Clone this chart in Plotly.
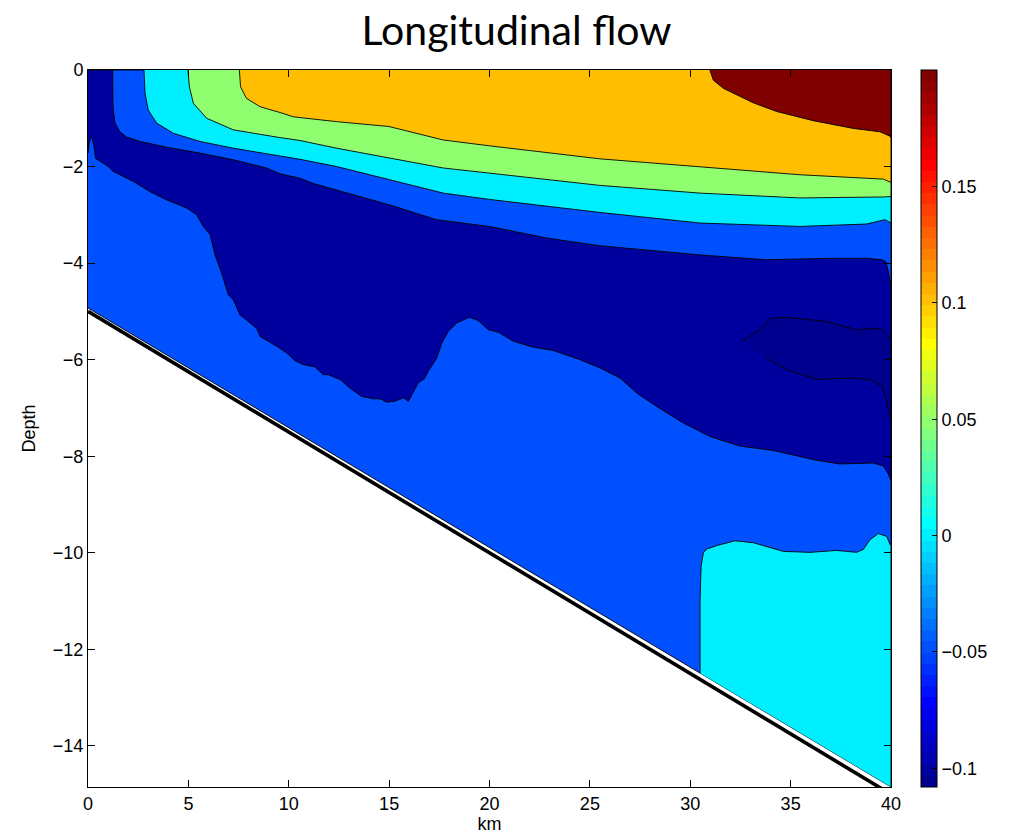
import numpy as np
import plotly.graph_objects as go

# ---------------------------------------------------------------
# Section geometry (km along channel, depth in m)
# ---------------------------------------------------------------
BED_KM = [0.0, 40.0]
BED_DEPTH = [-5.0, -15.0]            # bathymetry line
GRID_BOTTOM_KM = [0.0, 40.0]
GRID_BOTTOM_DEPTH = [-4.93, -14.85]  # deepest wet cell of the model grid

# ---------------------------------------------------------------
# Isolines of the longitudinal velocity (m/s)
# ---------------------------------------------------------------
# -0.05 m/s, lower branch (bottom of the strong ebb core)
ISO_M005_LOW_KM = [0.0, 0.07, 0.18, 0.30, 0.38, 0.76, 1.01, 1.26, 2.26, 3.09, 3.92,
                   4.92, 5.41, 5.74, 6.08, 6.33, 6.66, 6.99, 7.24, 7.57, 8.40, 8.57,
                   9.40, 9.90, 10.31, 10.72, 11.31, 11.72, 11.97, 12.55, 13.05, 13.63,
                   14.21, 14.55, 14.88, 15.29, 15.71, 15.96, 16.20, 16.45, 16.74, 16.95,
                   17.37, 17.62, 17.95, 18.37, 19.00, 19.44, 19.94, 20.44, 21.19, 22.18,
                   23.18, 24.51, 25.50, 26.50, 27.33, 28.33, 29.65, 30.98, 32.48, 34.14,
                   36.13, 37.46, 39.12, 39.60, 39.85, 40.0]
ISO_M005_LOW_DEPTH = [-1.72, -1.48, -1.37, -1.59, -1.83, -1.93, -2.00, -2.10, -2.31, -2.52,
                      -2.69, -2.86, -3.00, -3.24, -3.41, -3.83, -4.21, -4.66, -4.76, -5.07,
                      -5.35, -5.52, -5.72, -5.86, -6.02, -6.10, -6.15, -6.31, -6.31, -6.41,
                      -6.59, -6.76, -6.81, -6.81, -6.88, -6.86, -6.79, -6.86, -6.66, -6.48,
                      -6.40, -6.24, -5.97, -5.66, -5.41, -5.24, -5.12, -5.19, -5.38, -5.43,
                      -5.62, -5.74, -5.81, -6.00, -6.17, -6.38, -6.69, -6.97, -7.31, -7.59,
                      -7.79, -7.88, -8.07, -8.16, -8.14, -8.20, -8.35, -8.50]

# -0.05 m/s, upper branch
ISO_M005_UP_KM = [1.23, 1.24, 1.26, 1.35, 1.59, 1.93, 2.59, 3.92, 5.58, 7.24, 8.90, 9.56,
                  10.56, 11.22, 14.99, 17.37, 19.99, 22.85, 25.50, 30.49, 33.80, 37.10,
                  38.80, 39.55, 39.75, 39.88, 40.0]
ISO_M005_UP_DEPTH = [0.0, -0.62, -0.83, -1.10, -1.28, -1.39, -1.48, -1.60, -1.72, -1.86,
                     -2.03, -2.15, -2.24, -2.35, -2.79, -3.10, -3.24, -3.48, -3.64, -3.83,
                     -3.93, -3.90, -3.90, -3.93, -3.97, -4.20, -4.50]

# 0 m/s, upper branch
ISO_000_UP_KM = [2.79, 2.84, 3.00, 3.42, 4.25, 5.58, 7.24, 8.90, 9.56, 10.56, 12.39, 17.70,
                 19.99, 25.50, 30.49, 35.47, 38.79, 39.70, 40.0]
ISO_000_UP_DEPTH = [0.0, -0.48, -0.83, -1.10, -1.31, -1.48, -1.62, -1.74, -1.78, -1.85,
                    -2.00, -2.55, -2.68, -2.95, -3.17, -3.24, -3.19, -3.10, -3.17]

# 0 m/s, near-bed branch (landward flow pocket)
ISO_000_LOW_KM = [30.49, 30.49, 30.54, 30.65, 30.82, 31.32, 32.23, 33.14, 34.64, 35.97,
                  37.29, 38.29, 38.62, 38.95, 39.37, 39.79, 39.95, 40.0]
ISO_000_LOW_DEPTH = [None, -10.97, -10.28, -10.00, -9.92, -9.85, -9.75, -9.79, -9.97, -9.99,
                     -9.95, -9.99, -9.93, -9.73, -9.60, -9.66, -9.83, -9.85]

# 0.05 m/s
ISO_005_KM = [4.98, 5.05, 5.25, 5.91, 7.24, 8.90, 9.56, 10.56, 12.39, 17.70, 19.99, 25.50,
              30.49, 35.47, 39.62, 40.0]
ISO_005_DEPTH = [0.0, -0.35, -0.69, -1.00, -1.24, -1.36, -1.40, -1.46, -1.62, -2.03, -2.14,
                 -2.39, -2.55, -2.65, -2.63, -2.62]

# 0.10 m/s
ISO_010_KM = [7.54, 7.60, 7.90, 8.57, 9.56, 10.23, 12.39, 14.99, 17.70, 19.99, 25.50, 30.49,
              35.47, 39.62, 40.0]
ISO_010_DEPTH = [0.0, -0.35, -0.59, -0.76, -0.88, -0.97, -1.07, -1.17, -1.45, -1.57, -1.84,
                 -2.00, -2.17, -2.26, -2.33]

# 0.15 m/s
ISO_015_KM = [30.98, 31.15, 31.65, 33.14, 34.31, 36.13, 38.12, 39.45, 39.95, 40.0]
ISO_015_DEPTH = [0.0, -0.21, -0.38, -0.68, -0.86, -1.05, -1.21, -1.28, -1.37, -1.40]

# -0.10 m/s closed lens
ISO_M010_TOP_KM = [32.56, 33.47, 34.00, 34.80, 36.80, 38.29, 39.29, 39.60, 39.85, 40.0]
ISO_M010_TOP_DEPTH = [-5.62, -5.38, -5.14, -5.12, -5.21, -5.38, -5.35, -5.38, -5.50, -5.60]
ISO_M010_BOT_KM = [32.56, 33.80, 34.80, 36.30, 38.12, 39.00, 39.55, 39.80, 40.0]
ISO_M010_BOT_DEPTH = [-5.62, -5.97, -6.21, -6.41, -6.38, -6.42, -6.55, -6.90, -7.25]

# Colour scale limits and ticks
CMIN, CMAX = -0.108, 0.200
CB_TICKS = [-0.1, -0.05, 0, 0.05, 0.1, 0.15]
CB_TICKTEXT = ["\u22120.1", "\u22120.05", "0", "0.05", "0.1", "0.15"]
X_TICKS = [0, 5, 10, 15, 20, 25, 30, 35, 40]
Y_TICKS = [0, -2, -4, -6, -8, -10, -12, -14]


# ---------------------------------------------------------------
# MATLAB-style jet(64) colormap
# ---------------------------------------------------------------
def jet(m=64):
    n = int(np.ceil(m / 4))
    u = np.concatenate([np.arange(1, n + 1) / n, np.ones(n - 1), np.arange(n, 0, -1) / n])
    g = int(np.ceil(n / 2)) - (1 if m % 4 == 1 else 0) + np.arange(1, len(u) + 1)
    r = g + n
    b = g - n
    cmap = np.zeros((m, 3))
    rk = r[r <= m]
    cmap[rk - 1, 0] = u[:len(rk)]
    gk = g[g <= m]
    cmap[gk - 1, 1] = u[:len(gk)]
    bk = b[b >= 1]
    cmap[bk - 1, 2] = u[len(u) - len(bk):]
    return cmap


JET = jet(64)


def hexcol(rgb):
    return "#%02X%02X%02X" % tuple(int(round(255 * c)) for c in rgb)


def level_color(v):
    idx = int(np.floor((v - CMIN) / (CMAX - CMIN) * 64))
    idx = min(max(idx, 0), 63)
    return hexcol(JET[idx])


jet_scale = []
for i, c in enumerate(JET):
    jet_scale.append([i / 64, hexcol(c)])
    jet_scale.append([(i + 1) / 64, hexcol(c)])

fig = go.Figure()


def add_region(xs, ys, color):
    fig.add_trace(go.Scatter(
        x=xs, y=ys, mode="lines", fill="toself", fillcolor=color,
        line=dict(color="black", width=0.9), hoverinfo="skip", showlegend=False))


# Whole wet section (the -0.05 band)
add_region([0, 40] + GRID_BOTTOM_KM[::-1],
           [0, 0] + GRID_BOTTOM_DEPTH[::-1],
           level_color(-0.05))

# Ebb core between the two -0.05 branches (the -0.10 band)
add_region([0.0] + ISO_M005_UP_KM + ISO_M005_LOW_KM[::-1],
           [0.0] + ISO_M005_UP_DEPTH + ISO_M005_LOW_DEPTH[::-1],
           level_color(-0.1))

# Lens below -0.10
add_region(ISO_M010_TOP_KM + ISO_M010_BOT_KM[::-1][:-1],
           ISO_M010_TOP_DEPTH + ISO_M010_BOT_DEPTH[::-1][:-1],
           level_color(CMIN))

# Surface bands, lowest level first
for iso_x, iso_y, lev in [(ISO_000_UP_KM, ISO_000_UP_DEPTH, 0.0),
                          (ISO_005_KM, ISO_005_DEPTH, 0.05),
                          (ISO_010_KM, ISO_010_DEPTH, 0.1),
                          (ISO_015_KM, ISO_015_DEPTH, CMAX)]:
    add_region(iso_x + [40.0], iso_y + [0.0], level_color(lev))

# Near-bed pocket above 0
bed_at = lambda k: float(np.interp(k, GRID_BOTTOM_KM, GRID_BOTTOM_DEPTH))
pocket_y = [bed_at(ISO_000_LOW_KM[0])] + ISO_000_LOW_DEPTH[1:]
add_region(ISO_000_LOW_KM + [40.0],
           pocket_y + [bed_at(40.0)],
           level_color(0.0))

# Bathymetry
fig.add_trace(go.Scatter(x=BED_KM, y=BED_DEPTH, mode="lines",
                         line=dict(color="black", width=3.6),
                         hoverinfo="skip", showlegend=False))

# Colour bar carrier (single marker placed outside the visible range)
fig.add_trace(go.Scatter(
    x=[20], y=[5], mode="markers", hoverinfo="skip", showlegend=False,
    marker=dict(color=[0.0], cmin=CMIN, cmax=CMAX, colorscale=jet_scale, size=1,
                showscale=True,
                colorbar=dict(x=1.0375, xanchor="left", y=0.5, yanchor="middle",
                              len=1.0, lenmode="fraction", thickness=16,
                              xpad=0, ypad=0, outlinecolor="black", outlinewidth=1,
                              ticks="inside", ticklen=5, tickcolor="black",
                              tickvals=CB_TICKS, ticktext=CB_TICKTEXT,
                              tickfont=dict(family="Liberation Sans", size=18, color="black")))))

axis_common = dict(showgrid=False, zeroline=False, showline=True, linecolor="black",
                   linewidth=1, mirror="ticks", ticks="inside", ticklen=7,
                   tickcolor="black",
                   tickfont=dict(family="Liberation Sans", size=18, color="black"))

fig.update_layout(
    width=1033, height=840,
    margin=dict(l=88, r=142, t=70, b=53),
    paper_bgcolor="white", plot_bgcolor="white",
    title=dict(text="Longitudinal flow", x=0.5, xanchor="center", xref="container",
               y=0.964, yanchor="middle", yref="container",
               font=dict(family="Lato", size=41, color="black")),
    xaxis=dict(range=[0, 40], tickvals=X_TICKS, ticktext=[str(v) for v in X_TICKS],
               title=dict(text="km", standoff=2,
                          font=dict(family="Liberation Sans", size=18, color="black")),
               **axis_common),
    yaxis=dict(range=[GRID_BOTTOM_DEPTH[-1], 0], tickvals=Y_TICKS,
               ticktext=[("\u2212" + str(-v)) if v < 0 else str(v) for v in Y_TICKS],
               title=dict(text="Depth", standoff=12,
                          font=dict(family="Liberation Sans", size=18, color="black")),
               **axis_common),
)

fig.write_html("out.html")
